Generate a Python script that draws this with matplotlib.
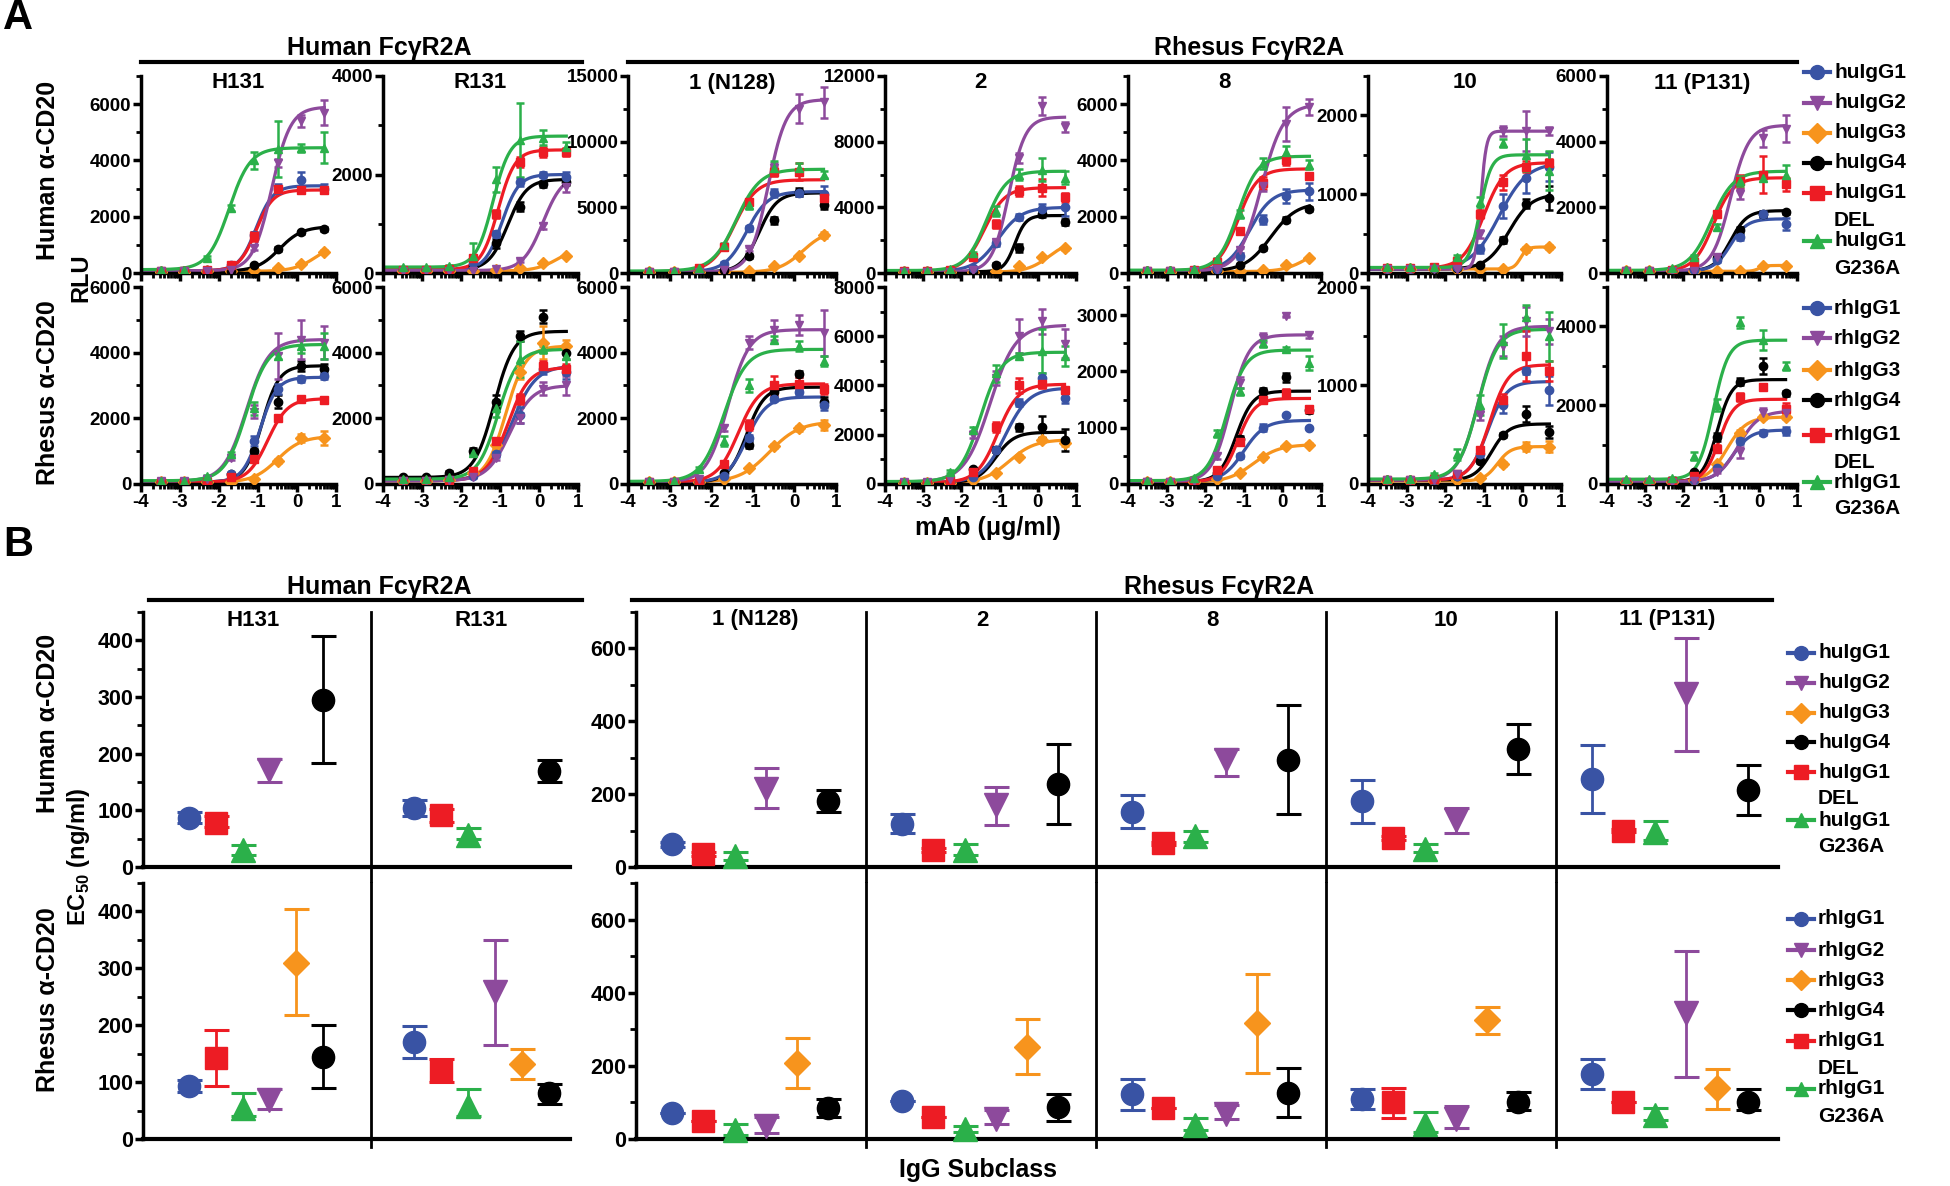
import numpy as np
import matplotlib
matplotlib.use("Agg")
import matplotlib.pyplot as plt
from matplotlib.lines import Line2D
from matplotlib.ticker import MultipleLocator, FixedLocator

plt.rcParams['font.family'] = ['Liberation Sans', 'DejaVu Sans']
plt.rcParams['font.weight'] = 'bold'
plt.rcParams['axes.unicode_minus'] = False
plt.rcParams['mathtext.fontset'] = 'custom'
plt.rcParams['mathtext.rm'] = 'Liberation Sans:bold'
plt.rcParams['mathtext.bf'] = 'Liberation Sans:bold'

nan = np.nan

# ---------------- data ----------------
receptors = ['H131', 'R131', '1 (N128)', '2', '8', '10', '11 (P131)']
hu_names = ['huIgG1', 'huIgG2', 'huIgG3', 'huIgG4', 'huIgG1\nDEL', 'huIgG1\nG236A']
rh_names = ['rhIgG1', 'rhIgG2', 'rhIgG3', 'rhIgG4', 'rhIgG1\nDEL', 'rhIgG1\nG236A']
colors = ['#3953a4', '#8d4a9c', '#f7941d', '#000000', '#ed1c24', '#2bb04a']
markers = ['o', 'v', 'D', 'o', 's', '^']

# log10 mAb concentration (ug/ml)
a_conc = [-3.5, -2.9, -2.3, -1.7, -1.1, -0.5, 0.1, 0.7]

# 4PL fit parameters, panel x series (G1, G2, G3, G4, DEL, G236A)
a_hu_bottom = [[80, 80, 60, 60, 80, 120], [60, 50, 40, 60, 70, 120],
               [100, 80, 50, 80, 100, 150], [100, 80, 50, 80, 100, 150],
               [80, 60, 50, 60, 80, 100], [50, 50, 50, 50, 60, 70],
               [60, 60, 50, 60, 60, 80]]
a_hu_top = [[3100, 5900, 1100, 1650, 2950, 4450], [2000, 2000, 550, 1900, 2500, 2780],
            [6200, 13200, 3300, 6100, 7100, 7900], [4000, 9500, 2000, 3500, 5200, 6200],
            [2950, 6000, 900, 2500, 3700, 4150], [1400, 1800, 330, 1000, 1400, 1500],
            [1650, 4500, 230, 1900, 2900, 3100]]
a_hu_logec50 = [[-1.05, -0.65, 0.5, -0.45, -1.05, -1.74], [-0.95, 0.1, 0.5, -0.8, -1.05, -1.18],
                [-1.15, -0.63, 0.2, -0.85, -1.45, -1.4], [-1.05, -0.76, 0.3, -0.6, -1.4, -1.35],
                [-0.85, -0.55, 0.6, -0.3, -1.15, -1.15], [-0.6, -1.08, -0.05, -0.35, -1.0, -1.1],
                [-0.75, -0.75, 0.0, -0.75, -1.2, -1.25]]
a_hu_hill = [[2.0, 1.8, 1.5, 1.5, 2.0, 1.6], [2.0, 1.7, 1.5, 1.8, 2.0, 2.0],
             [1.7, 2.0, 1.5, 2.0, 1.6, 1.5], [1.4, 2.0, 1.5, 3.0, 1.6, 1.6],
             [1.5, 1.5, 1.5, 1.3, 1.7, 1.7], [1.2, 6.0, 5.0, 1.5, 1.6, 3.0],
             [2.0, 1.8, 5.0, 2.0, 1.7, 1.5]]
a_hu_pts = [
    [[70, 70, 90, 280, 1350, 3000, 3300, 3000], [70, 70, 80, 100, 900, 3900, 5400, 5700],
     [50, 50, 60, 70, 100, 180, 330, 760], [50, 60, 60, 80, 280, 850, 1450, 1560],
     [70, 70, 90, 300, 1300, 3000, 2950, 2950], [110, 120, 550, 2300, 4000, 4400, 4450, 4450]],
    [[60, 60, 70, 200, 800, 1850, 2000, 1950], [50, 50, 50, 50, 80, 250, 950, 1750],
     [40, 40, 40, 45, 60, 100, 200, 345], [60, 60, 60, 150, 600, 1350, 1800, 1850],
     [70, 70, 80, 300, 1200, 2250, 2450, 2450], [120, 120, 140, 350, 1900, 2700, 2750, 2550]],
    [[100, 100, 150, 700, 3400, 6100, 6100, 6000], [80, 80, 100, 200, 1800, 8000, 12500, 13000],
     [50, 50, 60, 80, 150, 500, 1300, 2900], [80, 80, 100, 250, 1300, 4000, 6200, 5200],
     [100, 100, 350, 2000, 5400, 7700, 7700, 5700], [150, 150, 400, 2100, 5200, 8000, 8000, 7500]],
    [[100, 100, 120, 300, 1800, 3400, 3900, 4000], [80, 80, 90, 200, 1900, 7000, 10200, 8900],
     [50, 50, 50, 60, 120, 400, 1000, 1500], [80, 80, 80, 90, 500, 1500, 3600, 3100],
     [100, 100, 200, 1000, 3000, 5000, 5200, 4600], [150, 150, 250, 1200, 3800, 6000, 6300, 5800]],
    [[80, 80, 90, 150, 600, 1900, 2750, 2900], [60, 60, 70, 150, 800, 3100, 5300, 5900],
     [50, 50, 50, 55, 70, 120, 300, 550], [60, 60, 60, 90, 300, 880, 1900, 2280],
     [80, 80, 100, 400, 1500, 3200, 4000, 3450], [100, 100, 150, 500, 2100, 3900, 4300, 3850]],
    [[50, 50, 60, 80, 300, 850, 1200, 1350], [50, 50, 50, 50, 500, 1800, 1800, 1800],
     [50, 50, 50, 50, 50, 50, 300, 330], [50, 50, 50, 60, 100, 420, 880, 950],
     [60, 60, 70, 150, 750, 1150, 1350, 1400], [70, 70, 80, 200, 900, 1650, 1500, 1300]],
    [[60, 60, 70, 100, 400, 1100, 1800, 1500], [60, 60, 60, 70, 500, 2400, 4100, 4400],
     [50, 50, 50, 50, 60, 60, 200, 220], [60, 60, 70, 120, 450, 1300, 1800, 1850],
     [60, 60, 100, 350, 1800, 2800, 3000, 2700], [80, 80, 150, 500, 1400, 2800, 2900, 3000]],
]
a_hu_err = [
    [[10, 10, 15, 30, 100, 150, 300, 150], [10, 10, 10, 20, 80, 150, 200, 450],
     [5, 5, 5, 5, 5, 10, 20, 40], [10, 10, 10, 20, 50, 80, 60, 70],
     [10, 10, 15, 30, 150, 100, 80, 80], [10, 10, 40, 100, 300, 1000, 150, 550]],
    [[10, 10, 10, 30, 60, 80, 60, 100], [5, 5, 5, 5, 10, 30, 60, 100],
     [5, 5, 5, 5, 5, 5, 10, 15], [10, 10, 10, 20, 100, 100, 60, 60],
     [10, 10, 10, 40, 80, 100, 100, 80], [10, 10, 20, 250, 250, 750, 150, 100]],
    [[20, 20, 30, 100, 200, 300, 250, 650], [10, 10, 20, 50, 150, 400, 1100, 1200],
     [5, 5, 10, 10, 20, 50, 100, 250], [10, 10, 20, 40, 150, 250, 300, 350],
     [20, 20, 50, 200, 200, 350, 650, 400], [20, 20, 50, 200, 300, 550, 350, 300]],
    [[20, 20, 20, 50, 150, 200, 300, 500], [10, 10, 10, 30, 200, 300, 550, 300],
     [5, 5, 5, 5, 10, 20, 50, 80], [10, 10, 10, 10, 80, 250, 200, 200],
     [20, 20, 30, 100, 250, 300, 500, 250], [20, 20, 30, 100, 300, 350, 700, 400]],
    [[10, 10, 10, 30, 100, 150, 250, 300], [10, 10, 10, 20, 80, 200, 600, 300],
     [5, 5, 5, 5, 5, 10, 20, 30], [10, 10, 10, 10, 30, 60, 80, 80],
     [10, 10, 20, 50, 100, 200, 150, 120], [10, 10, 20, 50, 150, 200, 200, 150]],
    [[5, 5, 10, 15, 50, 150, 180, 180], [5, 5, 5, 5, 50, 60, 250, 50],
     [5, 5, 5, 5, 5, 5, 30, 30], [5, 5, 5, 5, 10, 40, 60, 150],
     [5, 5, 10, 20, 50, 100, 70, 50], [5, 5, 10, 30, 60, 50, 200, 250]],
    [[10, 10, 10, 20, 50, 80, 100, 180], [10, 10, 10, 10, 50, 150, 250, 400],
     [5, 5, 5, 5, 5, 5, 20, 20], [10, 10, 10, 20, 50, 100, 100, 50],
     [10, 10, 20, 50, 100, 200, 550, 200], [10, 10, 20, 50, 100, 150, 100, 300]],
]

a_rh_bottom = [[60, 80, 50, 60, 60, 100], [100, 100, 100, 200, 100, 150],
               [60, 60, 50, 60, 60, 80], [60, 80, 50, 60, 60, 100],
               [40, 40, 30, 40, 40, 60], [40, 40, 30, 40, 40, 50],
               [60, 60, 60, 60, 60, 120]]
a_rh_top = [[3250, 4400, 1450, 3600, 2600, 4250], [3600, 3000, 4200, 4650, 3550, 4100],
            [2650, 4700, 1900, 2950, 3050, 4100], [3900, 6450, 1800, 2100, 4050, 5350],
            [1130, 2650, 700, 1650, 1520, 2380], [1040, 1600, 380, 610, 1210, 1570],
            [1370, 1850, 1700, 2650, 2150, 3650]]
a_rh_logec50 = [[-0.95, -1.3, -0.5, -0.9, -0.75, -1.3], [-0.7, -0.75, -0.85, -1.15, -0.8, -1.05],
                [-1.15, -1.6, -0.6, -1.15, -1.35, -1.7], [-0.85, -1.25, -0.75, -1.1, -1.05, -1.5],
                [-1.0, -1.35, -0.75, -1.2, -1.15, -1.45], [-0.9, -1.15, -0.65, -0.8, -0.85, -1.15],
                [-0.7, -0.55, -0.85, -1.1, -1.05, -1.2]]
a_rh_hill = [[2.0, 1.5, 1.4, 2.0, 1.7, 1.6], [1.4, 1.5, 1.7, 1.7, 1.6, 1.7],
             [1.8, 1.7, 1.2, 2.0, 1.7, 1.6], [1.4, 1.3, 1.3, 1.8, 1.6, 1.6],
             [1.6, 1.8, 1.3, 2.0, 2.0, 1.8], [1.8, 1.7, 2.5, 2.0, 1.8, 1.7],
             [1.8, 1.6, 1.7, 2.3, 2.2, 2.2]]
a_rh_pts = [
    [[60, 60, 80, 300, 1300, 2900, 3200, 3300], [80, 80, 150, 800, 2200, 3900, 4400, 4300],
     [50, 50, 50, 70, 150, 700, 1400, 1400], [60, 60, 70, 300, 1000, 2500, 3600, 3500],
     [60, 60, 70, 200, 750, 2000, 2600, 2550], [100, 100, 250, 900, 2300, 3900, 4200, 4200]],
    [[100, 100, 120, 250, 900, 2100, 3500, 3400], [100, 100, 110, 200, 800, 2000, 2900, 3000],
     [100, 100, 120, 350, 1200, 3400, 4300, 4200], [200, 200, 350, 1000, 2500, 4500, 5100, 4000],
     [100, 100, 130, 400, 1300, 2600, 3600, 3500], [150, 150, 200, 950, 2300, 3800, 4100, 3900]],
    [[60, 60, 70, 250, 1400, 2600, 2800, 2400], [60, 60, 150, 1700, 4300, 4700, 4850, 4600],
     [50, 50, 60, 150, 500, 1150, 1700, 1800], [60, 60, 70, 350, 1200, 2800, 3350, 2500],
     [60, 60, 100, 600, 1800, 3000, 3050, 2900], [80, 80, 450, 1300, 3000, 4400, 4200, 3750]],
    [[60, 60, 100, 300, 1400, 3300, 4300, 3500], [80, 80, 200, 2000, 4300, 6000, 6600, 5700],
     [50, 50, 60, 150, 450, 1100, 1800, 1650], [60, 60, 100, 600, 1400, 2300, 2300, 1800],
     [60, 60, 150, 500, 2300, 4000, 4050, 3800], [100, 100, 500, 2200, 4500, 5200, 5400, 5200]],
    [[40, 40, 50, 150, 500, 1000, 1220, 1000], [40, 40, 60, 500, 1800, 2600, 2980, 2650],
     [30, 30, 40, 80, 200, 480, 680, 700], [40, 40, 60, 200, 800, 1650, 1900, 1320],
     [40, 40, 60, 250, 750, 1500, 1620, 1340], [60, 60, 100, 900, 1650, 2500, 2400, 2150]],
    [[40, 40, 40, 80, 300, 800, 1150, 950], [40, 40, 40, 100, 700, 1400, 1650, 1550],
     [30, 30, 30, 40, 60, 200, 380, 380], [40, 40, 40, 80, 230, 500, 710, 530],
     [40, 40, 50, 100, 350, 850, 1300, 1150], [50, 50, 100, 300, 800, 1450, 1700, 1500]],
    [[60, 60, 60, 100, 400, 1100, 1300, 1350], [60, 60, 60, 80, 300, 800, 1800, 1800],
     [60, 60, 60, 100, 500, 1300, 1700, 1700], [60, 60, 70, 300, 1200, 2600, 3000, 2300],
     [60, 60, 70, 200, 900, 2200, 2450, 1900], [120, 120, 150, 700, 2000, 4100, 3650, 3000]],
]
a_rh_err = [
    [[10, 10, 10, 30, 150, 150, 80, 100], [10, 10, 20, 80, 200, 700, 600, 500],
     [5, 5, 5, 10, 20, 70, 120, 220], [10, 10, 10, 30, 70, 200, 150, 150],
     [10, 10, 10, 20, 50, 60, 50, 50], [10, 10, 30, 80, 200, 100, 200, 400]],
    [[10, 10, 20, 30, 80, 250, 150, 200], [10, 10, 10, 20, 60, 150, 200, 300],
     [10, 10, 20, 40, 100, 200, 500, 200], [20, 20, 40, 100, 200, 150, 200, 200],
     [10, 10, 20, 40, 100, 150, 150, 150], [20, 20, 30, 80, 250, 550, 100, 300]],
    [[10, 10, 10, 30, 100, 80, 100, 150], [10, 10, 20, 100, 200, 300, 300, 700],
     [5, 5, 5, 10, 30, 60, 80, 150], [10, 10, 10, 30, 100, 150, 100, 150],
     [10, 10, 15, 80, 150, 300, 200, 150], [10, 10, 80, 150, 200, 100, 150, 150]],
    [[10, 10, 20, 30, 100, 150, 200, 200], [10, 10, 30, 150, 300, 700, 500, 600],
     [5, 5, 5, 10, 30, 60, 100, 100], [10, 10, 15, 50, 100, 150, 450, 450],
     [10, 10, 20, 50, 200, 300, 150, 100], [10, 10, 50, 100, 350, 100, 900, 400]],
    [[5, 5, 5, 20, 40, 60, 20, 20], [5, 5, 10, 50, 100, 80, 10, 50],
     [5, 5, 5, 10, 20, 30, 20, 20], [5, 5, 10, 30, 60, 60, 80, 50],
     [5, 5, 10, 30, 60, 50, 60, 50], [5, 5, 10, 60, 60, 60, 30, 130]],
    [[5, 5, 5, 10, 40, 80, 30, 150], [5, 5, 5, 10, 50, 100, 150, 130],
     [5, 5, 5, 5, 10, 20, 45, 55], [5, 5, 5, 10, 20, 20, 80, 60],
     [5, 5, 5, 10, 30, 60, 250, 100], [5, 5, 10, 60, 100, 170, 120, 250]],
    [[10, 10, 10, 10, 40, 80, 60, 100], [10, 10, 10, 10, 30, 150, 120, 80],
     [10, 10, 10, 10, 40, 80, 60, 60], [10, 10, 10, 30, 100, 100, 200, 60],
     [10, 10, 10, 20, 80, 100, 50, 150], [10, 10, 20, 100, 150, 150, 250, 100]],
]

# y-axis ranges (max, labelled step) per panel
a_hu_ymax = [7000, 4000, 15000, 12000, 7000, 2500, 6000]
a_hu_ystep = [2000, 2000, 5000, 4000, 2000, 1000, 2000]
a_rh_ymax = [6000, 6000, 6000, 8000, 3500, 2000, 5000]
a_rh_ystep = [2000, 2000, 2000, 2000, 1000, 1000, 2000]

# EC50 (ng/ml) with error-bar ends, panel x series (G1, G2, G3, G4, DEL, G236A)
b_hu_ec50 = [[87, 172, nan, 295, 78, 30], [105, nan, nan, 170, 92, 57],
             [62, 215, nan, 182, 35, 30], [118, 170, nan, 228, 47, 48],
             [152, 295, nan, 295, 65, 85], [180, 130, nan, 323, 80, 50],
             [242, 475, nan, 212, 100, 97]]
b_hu_lo = [[78, 150, nan, 183, 70, 22], [90, nan, nan, 150, 80, 50],
           [55, 161, nan, 152, 30, 20], [92, 115, nan, 118, 42, 32],
           [107, 250, nan, 145, 60, 68], [122, 93, nan, 256, 75, 40],
           [148, 318, nan, 143, 95, 73]]
b_hu_hi = [[97, 190, nan, 407, 90, 38], [118, nan, nan, 188, 102, 68],
           [68, 271, nan, 212, 40, 42], [145, 220, nan, 337, 52, 63],
           [197, 325, nan, 445, 70, 98], [240, 163, nan, 393, 85, 62],
           [335, 630, nan, 280, 105, 127]]
b_rh_ec50 = [[93, 68, 310, 145, 143, 55], [170, 258, 132, 80, 120, 58],
             [70, 35, 208, 85, 50, 25], [105, 55, 252, 87, 60, 28],
             [122, 68, 317, 127, 85, 38], [110, 55, 325, 100, 100, 40],
             [178, 345, 140, 100, 100, 65]]
b_rh_lo = [[82, 52, 218, 90, 93, 40], [143, 165, 105, 62, 100, 40],
           [70, 17, 140, 60, 50, 12], [105, 41, 178, 50, 60, 20],
           [78, 55, 180, 60, 85, 25], [82, 30, 288, 78, 58, 20],
           [138, 170, 82, 78, 100, 52]]
b_rh_hi = [[104, 88, 405, 200, 192, 80], [198, 350, 158, 97, 140, 88],
           [70, 60, 275, 110, 50, 40], [105, 78, 328, 122, 60, 35],
           [165, 92, 452, 193, 85, 58], [138, 90, 362, 128, 140, 75],
           [218, 515, 192, 138, 100, 85]]
b_slot = [0, 3, 4, 5, 1, 2]   # x order: G1, DEL, G236A, G2, G3, G4

# ---------------- layout (pixels) ----------------
W, H = 1950, 1186
a_cols = [(141, 336), (383, 578), (628, 836), (885, 1076), (1128, 1321), (1368, 1561), (1607, 1797)]
a_rows = [(76, 273), (287, 484)]
b_rows = [(612, 867), (883, 1139)]
b_left, b_right = (143, 570), (636, 1778)
b_title_x = [253, 481, 755, 982, 1212, 1446, 1667]

fig = plt.figure(figsize=(W / 100, H / 100), dpi=100)


def add_ax(x0, x1, y0, y1):
    return fig.add_axes([x0 / W, 1 - y1 / H, (x1 - x0) / W, (y1 - y0) / H])


def ftext(x, y, s, **kw):
    fig.text(x / W, 1 - y / H, s, **kw)


def fline(x0, x1, y0, y1, lw=3):
    fig.add_artist(Line2D([x0 / W, x1 / W], [1 - y0 / H, 1 - y1 / H], color='black', lw=lw))


def logistic(x, bottom, top, ec50, hill):
    return bottom + (top - bottom) / (1 + 10 ** ((ec50 - x) * hill))


def style_axes(ax):
    for s in ['top', 'right']:
        ax.spines[s].set_visible(False)
    for s in ['left', 'bottom']:
        ax.spines[s].set_linewidth(2.5)


# ---------------- panel A ----------------
xfit = np.linspace(-4, 0.7, 300)
minor_x = [n + np.log10(k) for n in range(-4, 1) for k in range(2, 10)]
draw_order = [2, 3, 0, 4, 1, 5]
for r, (bot, top, ec, hill, pts, err, ymax, ystep) in enumerate([
        (a_hu_bottom, a_hu_top, a_hu_logec50, a_hu_hill, a_hu_pts, a_hu_err, a_hu_ymax, a_hu_ystep),
        (a_rh_bottom, a_rh_top, a_rh_logec50, a_rh_hill, a_rh_pts, a_rh_err, a_rh_ymax, a_rh_ystep)]):
    for p in range(7):
        ax = add_ax(a_cols[p][0], a_cols[p][1], a_rows[r][0], a_rows[r][1])
        style_axes(ax)
        for s in draw_order:
            ax.plot(xfit, logistic(xfit, bot[p][s], top[p][s], ec[p][s], hill[p][s]),
                    color=colors[s], lw=2.3, zorder=2)
            ax.errorbar(a_conc, pts[p][s], yerr=err[p][s], fmt=markers[s], color=colors[s],
                        ms=6, capsize=3, elinewidth=1.8, capthick=1.8, zorder=3)
        ax.set_xlim(-4, 1)
        ax.set_ylim(0, ymax[p])
        ax.xaxis.set_major_locator(FixedLocator([-4, -3, -2, -1, 0, 1]))
        ax.xaxis.set_minor_locator(FixedLocator(minor_x))
        ax.yaxis.set_major_locator(MultipleLocator(ystep[p]))
        ax.yaxis.set_minor_locator(MultipleLocator(ystep[p] / 2))
        ax.tick_params(which='major', length=6, width=2.5, labelsize=13.5, pad=1)
        ax.tick_params(which='minor', length=3.5, width=2)
        if r == 0:
            ax.tick_params(labelbottom=False)
            ftext((a_cols[p][0] + a_cols[p][1]) / 2, 83, receptors[p],
                  ha='center', va='center', fontsize=16)

# ---------------- panel B ----------------
left_units, left_div, left_start = 15.87, 8.47, [1.7, 10.09]
right_pw, right_start = 7.35, 1.15
right_units = right_pw * (b_right[1] - b_right[0]) / 230.0
for r, (val, lo, hi) in enumerate([(b_hu_ec50, b_hu_lo, b_hu_hi), (b_rh_ec50, b_rh_lo, b_rh_hi)]):
    y0, y1 = b_rows[r]
    axl = add_ax(b_left[0], b_left[1], y0, y1)
    axr = add_ax(b_right[0], b_right[1], y0, y1)
    for ax, ymax, step, units in [(axl, 450, 100, left_units), (axr, 700, 200, right_units)]:
        style_axes(ax)
        ax.spines['bottom'].set_linewidth(3)
        ax.set_xlim(0, units)
        ax.set_ylim(0, ymax)
        ax.set_xticks([])
        ax.yaxis.set_major_locator(MultipleLocator(step))
        ax.yaxis.set_minor_locator(MultipleLocator(step / 2))
        ax.tick_params(which='major', length=6, width=2.5, labelsize=15.5, pad=1)
        ax.tick_params(which='minor', length=4, width=2)
    ext = (20 if r == 0 else 8) / (y1 - y0)
    axl.axvline(left_div, ymin=-ext, ymax=1, color='black', lw=2, clip_on=False)
    for k in range(1, 5):
        axr.axvline(k * right_pw, ymin=-ext, ymax=1, color='black', lw=2, clip_on=False)
    for p in range(7):
        if p < 2:
            ax, x0 = axl, left_start[p]
        else:
            ax, x0 = axr, (p - 2) * right_pw + right_start
        for s in range(6):
            v = val[p][s]
            if np.isnan(v):
                continue
            ms = {'D': 13, 'o': 16, 's': 16, '^': 17, 'v': 17}[markers[s]]
            ax.errorbar([x0 + b_slot[s]], [v], yerr=[[v - lo[p][s]], [hi[p][s] - v]],
                        fmt=markers[s], color=colors[s], ms=ms, capsize=9,
                        elinewidth=2, capthick=2.2, zorder=3, clip_on=False)
    if r == 0:
        for p in range(7):
            ftext(b_title_x[p], 620, receptors[p], ha='center', va='center', fontsize=16)

# ---------------- legends ----------------
def legend(x0, ys, names):
    for s, (y, name) in enumerate(zip(ys, names)):
        fig.add_artist(Line2D([x0 / W, (x0 + 26) / W], [1 - y / H] * 2, color=colors[s], lw=3))
        fig.add_artist(Line2D([(x0 + 13) / W], [1 - y / H], color=colors[s], marker=markers[s], ms=10))
        for i, line in enumerate(name.split('\n')):
            ftext(x0 + 30, y + 27 * i, line, ha='left', va='center', fontsize=15)


legend(1804, [72, 103, 133, 163, 193, 241], hu_names)
legend(1804, [308, 338, 370, 400, 435, 482], rh_names)
legend(1788, [653, 683, 713, 742, 772, 820], hu_names)
legend(1788, [919, 950, 980, 1010, 1041, 1089], rh_names)

# ---------------- headers and labels ----------------
ftext(3, 18, 'A', ha='left', va='center', fontsize=30)
ftext(3, 545, 'B', ha='left', va='center', fontsize=30)
ftext(379, 48, 'Human Fc\u03b3R2A', ha='center', va='center', fontsize=18)
fline(141, 582, 62, 62)
ftext(1249, 48, 'Rhesus Fc\u03b3R2A', ha='center', va='center', fontsize=18)
fline(628, 1797, 62, 62)
ftext(379, 587, 'Human Fc\u03b3R2A', ha='center', va='center', fontsize=18)
fline(149, 582, 600, 600)
ftext(1219, 587, 'Rhesus Fc\u03b3R2A', ha='center', va='center', fontsize=18)
fline(632, 1772, 600, 600)

ftext(48, 170, 'Human \u03b1-CD20', rotation=90, ha='center', va='center', fontsize=18)
ftext(81, 278, 'RLU', rotation=90, ha='center', va='center', fontsize=17)
ftext(48, 393, 'Rhesus \u03b1-CD20', rotation=90, ha='center', va='center', fontsize=18)
ftext(988, 528, 'mAb (\u03bcg/ml)', ha='center', va='center', fontsize=18)

ftext(48, 723, 'Human \u03b1-CD20', rotation=90, ha='center', va='center', fontsize=18)
ftext(78, 857, r'EC$_{\mathregular{50}}$ (ng/ml)', rotation=90, ha='center', va='center', fontsize=17)
ftext(48, 1000, 'Rhesus \u03b1-CD20', rotation=90, ha='center', va='center', fontsize=18)
ftext(978, 1170, 'IgG Subclass', ha='center', va='center', fontsize=18)

fig.savefig('out.png', dpi=100)
